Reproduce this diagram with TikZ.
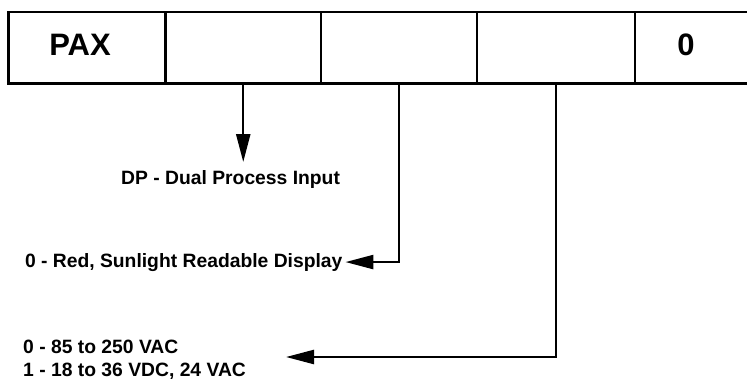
\documentclass[tikz,border=0pt]{standalone}
\usepackage{fontspec}
\setmainfont{Liberation Sans}
\usetikzlibrary{arrows.meta}
\begin{document}
\begin{tikzpicture}[x=1pt,y=-1pt,
  cell/.style={draw, line width=2.4pt, minimum width=#1, minimum height=71.6pt,
    inner sep=0pt, outer sep=0pt, anchor=north west},
  big/.style={font=\bfseries\fontsize{31}{31}\selectfont, inner sep=0pt},
  lbl/.style={font=\bfseries\fontsize{19.3}{23}\selectfont, inner sep=0pt,
    anchor=base west, align=left},
  conn/.style={line width=2.4pt, -{Triangle[length=28pt,width=14pt]}}]
\useasboundingbox (0,0) rectangle (747,381);
\clip (0,0) rectangle (747,381);
% cells
\node[cell=157.2pt] (c1) at (8.3,11.7) {};
\node[cell=155.5pt] (c2) at (165.5,11.7) {};
\node[cell=156pt]   (c3) at (321,11.7) {};
\node[cell=158pt]   (c4) at (477,11.7) {};
\node[cell=157pt]   (c5) at (635,11.7) {};
\node[big] (pax)  at (80,45) {PAX};
\node[big] (zero) at (686,45) {0};
% labels
\node[lbl] (dp) at (121,184) {DP - Dual Process Input};
\node[lbl, outer xsep=3pt] (disp) at (22,267) {0 - Red, Sunlight Readable Display};
\node[lbl] (pwr) at (23,376) {0 - 85 to 250 VAC\\1 - 18 to 36 VDC, 24 VAC};
\coordinate (dptip) at (242,162);
\coordinate (pwrtip) at (286,357);
% connectors
\draw[conn] (c2.south) -- (c2.south |- dptip);
\draw[conn] (c3.south) |- (disp.east);
\draw[conn] (c4.south) |- (pwrtip);
\end{tikzpicture}
\end{document}
